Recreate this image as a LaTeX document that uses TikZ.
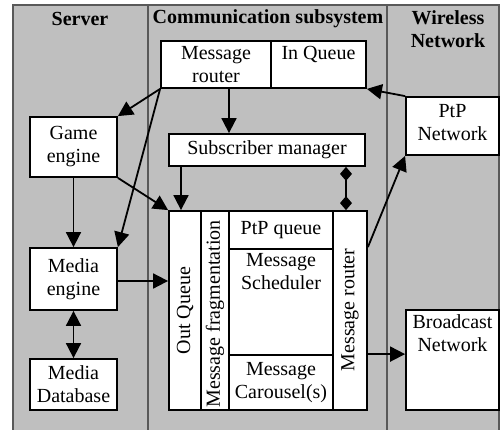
\documentclass[tikz,border=0pt]{standalone}
\usepackage{fontspec}
\setmainfont{Liberation Serif}
\usetikzlibrary{arrows.meta,calc}
\begin{document}
\begin{tikzpicture}[x=1pt,y=-1pt,
  font=\fontsize{20}{23}\selectfont,
  panel/.style={draw=black!65,fill=black!25,line width=1.5pt},
  box/.style={draw,fill=white,line width=1.8pt,inner sep=0pt,align=center},
  hdr/.style={font=\fontsize{20}{23}\selectfont\bfseries,align=center},
  arr/.style={line width=1.8pt,-{Triangle[length=15pt,width=15pt]}},
  darr/.style={line width=1.8pt,{Triangle[length=15pt,width=15pt]}-{Triangle[length=15pt,width=15pt]}},
  dia/.style={line width=1.8pt,{Diamond[length=14pt,width=12pt]}-{Diamond[length=14pt,width=12pt]}},
  toplbl/.style={anchor=north,inner sep=3pt,align=center}
]
\useasboundingbox (0,0) rectangle (500,430);
% panels
\path[panel] (13,5) rectangle (148,432);
\path[panel] (148,5) rectangle (387,432);
\path[panel] (387,5) rectangle (499,432);
\node[hdr] (hs) at (80,19) {Server};
\node[hdr] (hc) at (268,19) {Communication subsystem};
\node[hdr] (hw) at (448,29) {Wireless\\Network};
% boxes
\node[box,minimum width=110,minimum height=47] (mr) at (216,64.5) {Message\\router};
\node[box,minimum width=95,minimum height=47,label={[toplbl,inner sep=6pt]north:In Queue}] (inq) at (318.5,64.5) {};
\node[box,minimum width=87,minimum height=60] (game) at (73.5,147) {Game\\engine};
\node[box,minimum width=196,minimum height=32] (sub) at (267,150) {Subscriber manager};
\node[box,minimum width=93,minimum height=58,label={[toplbl,inner sep=8pt]north:PtP\\Network}] (ptp) at (452.5,126) {};
\node[box,minimum width=93,minimum height=100,label={[toplbl,inner sep=5pt]north:Broadcast\\Network}] (bcast) at (452.5,360) {};
\node[box,minimum width=87,minimum height=62] (media) at (73.5,279) {Media\\engine};
\node[box,minimum width=87,minimum height=51] (db) at (73.5,384.5) {Media\\Database};
\node[box,minimum width=32,minimum height=199] (outq) at (185,310.5) {};
\node[rotate=90] (outqt) at (outq.center) {Out Queue};
\node[box,minimum width=28,minimum height=199] (frag) at (215,310.5) {};
\node[rotate=90] (fragt) at (215,314) {Message fragmentation};
\node[box,minimum width=104,minimum height=38] (ptpq) at (281,230) {PtP queue};
\node[box,minimum width=104,minimum height=106,label={[toplbl,inner sep=5pt]north:Message\\Scheduler}] (sched) at (281,302) {};
\node[box,minimum width=104,minimum height=55] (car) at (281,382.5) {Message\\Carousel(s)};
\node[box,minimum width=34,minimum height=199] (mrv) at (350,310.5) {};
\node[rotate=90] (mrvt) at (350,310) {Message router};
% connectors
\draw[arr] (mr.south west) -- (game.north east);
\draw[arr] (mr.south west) -- (media.north east);
\draw[arr] ([xshift=13pt]mr.south) -- ([xshift=13pt]mr.south |- sub.north);
\draw[arr] (ptp.north west) -- (inq.south east);
\draw[arr] (game.south east) -- (outq.north west);
\draw[arr] ([xshift=-4pt]outq.north |- sub.south) -- ([xshift=-4pt]outq.north);
\draw[dia] ([xshift=-4pt]mrv.north |- sub.south) -- ([xshift=-4pt]mrv.north);
\draw[arr] ([yshift=-37pt]mrv.north east) -- (ptp.south west);
\draw[arr] (car.north -| mrv.east) -- (car.north -| bcast.west);
\draw[arr] (game.south) -- (media.north);
\draw[arr] ([yshift=-2pt]media.east) -- ([yshift=-2pt]media.east -| outq.west);
\draw[darr] (media.south) -- (db.north);
\end{tikzpicture}
\end{document}
